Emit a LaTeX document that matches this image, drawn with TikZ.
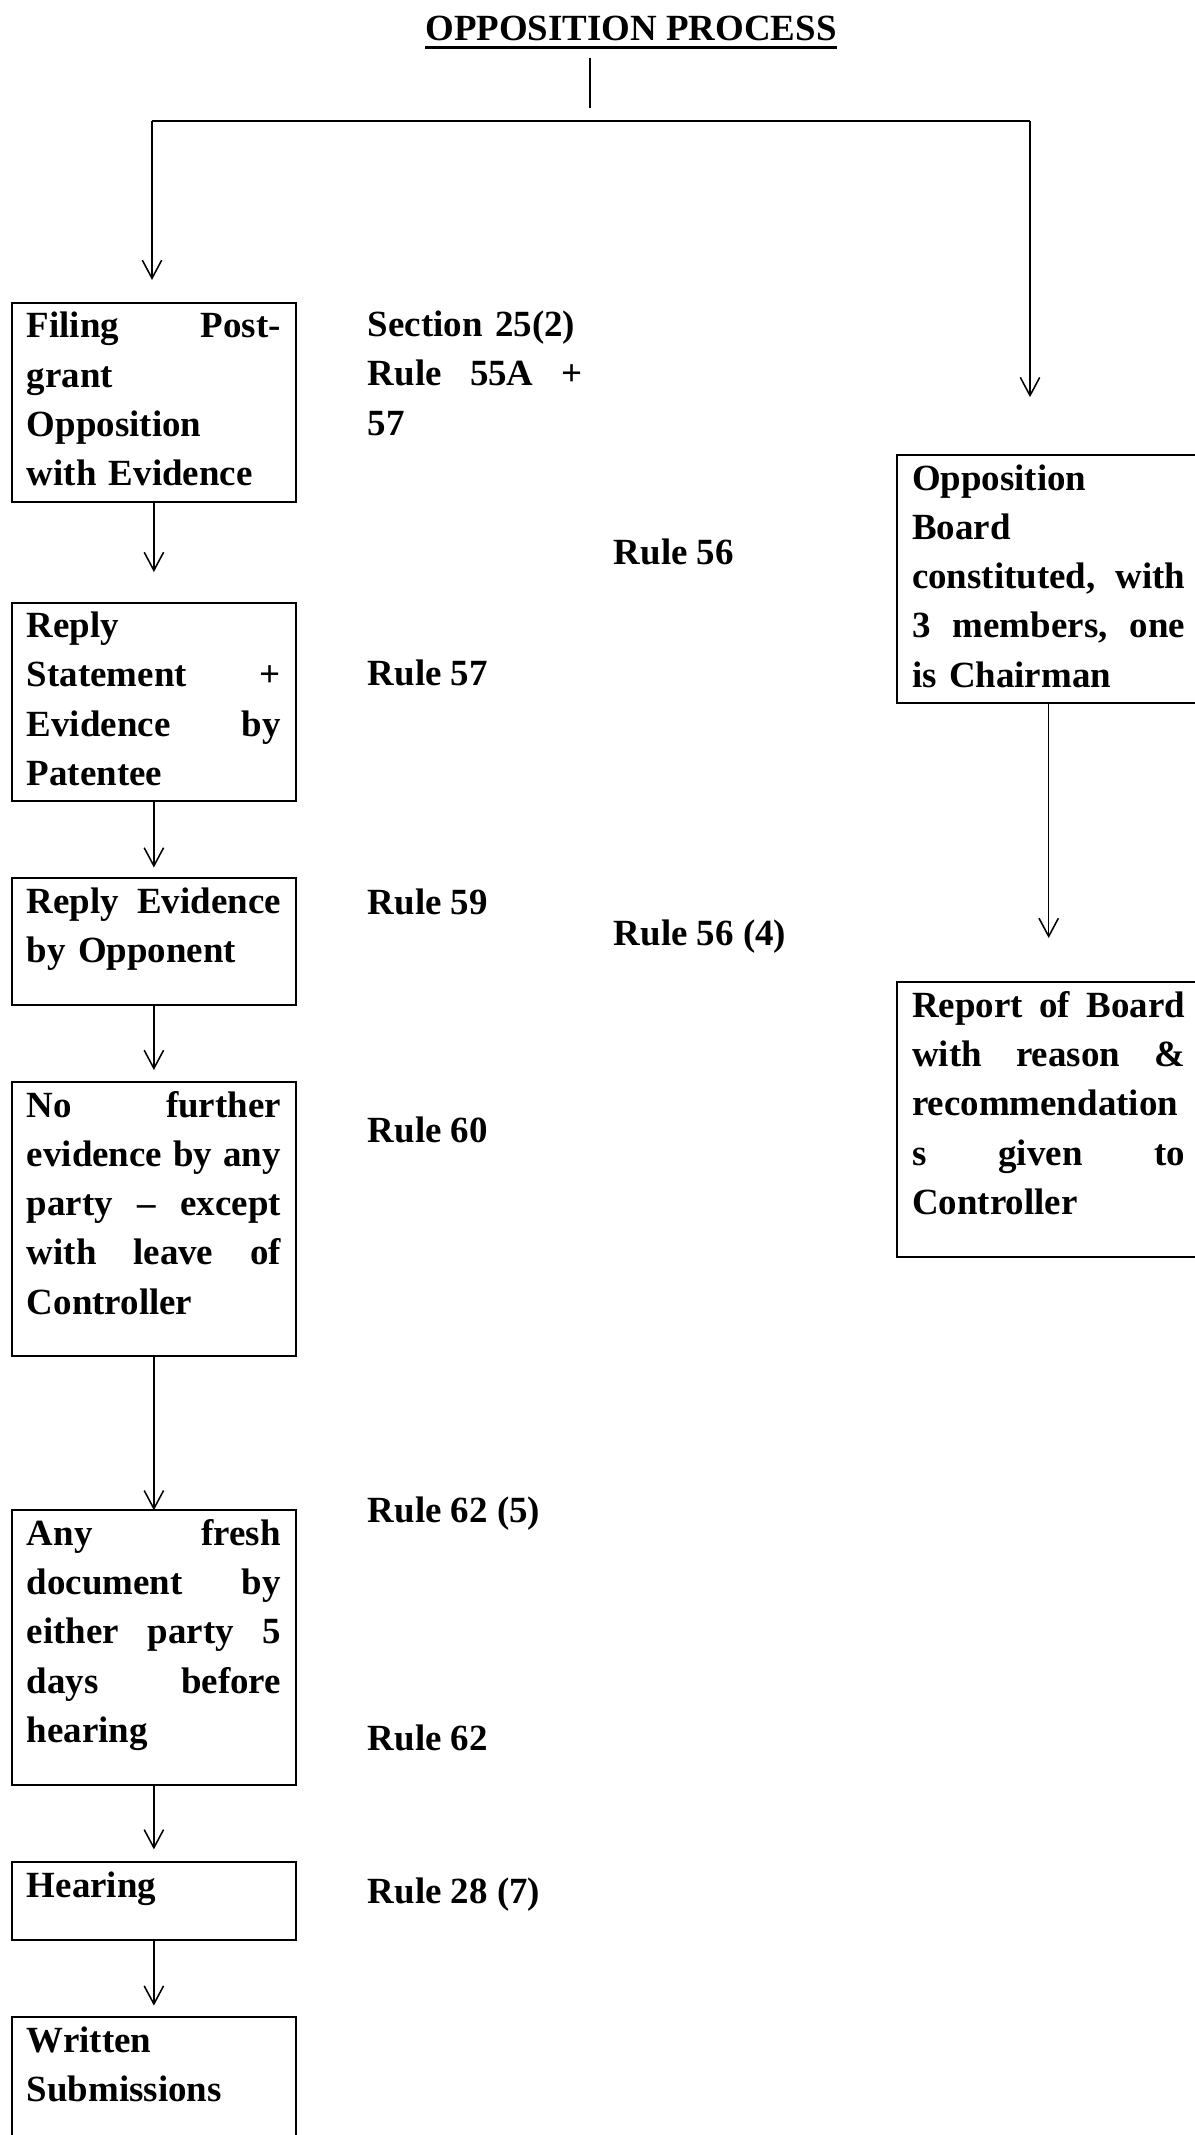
\documentclass[tikz,border=0pt]{standalone}
\usepackage{fontspec}
\setmainfont{Liberation Serif}
\usetikzlibrary{arrows.meta}
\newsavebox{\titlebox}
\newcommand{\thickul}[1]{\sbox{\titlebox}{#1}\rlap{\rule[-2.7pt]{\wd\titlebox}{0.85pt}}\usebox{\titlebox}}

\begin{document}
\begin{tikzpicture}[
  x=0.325pt,y=-0.325pt,
  stage/.style={draw,line width=0.65pt,anchor=north west,inner xsep=5pt,inner ysep=0pt,outer sep=0pt,text width=82.55pt,align=left,text height=11.4pt,font=\fontsize{12pt}{16pt}\selectfont\bfseries},
  widestage/.style={stage,text width=88.8pt},
  rulelbl/.style={anchor=base west,inner sep=0pt,font=\fontsize{12pt}{16pt}\selectfont\bfseries},
  link/.style={line width=0.5pt},
  arr/.style={-{Straight Barb[length=5.9pt,width=6.3pt]},line width=0.5pt}
]
  \useasboundingbox (0,0) rectangle (1194,2135);
  \node[anchor=base,inner xsep=0pt,inner ysep=5.4pt,text depth=0pt,font=\fontsize{12pt}{16pt}\selectfont\bfseries] (title) at (631,40.5) {\thickul{OPPOSITION PROCESS}};

  \node[stage,text depth=53.3pt] (filing) at (11.5,302.7) {Filing\hfill Post-\\grant\\Opposition\\with Evidence};
  \node[stage,text depth=53pt] (reply) at (11.5,602.5) {Reply\\Statement\hfill +\\Evidence\hfill by\\Patentee};
  \node[stage,text depth=29.9pt] (oppev) at (11.5,878) {Reply\hfill Evidence\\by Opponent};
  \node[stage,text depth=77.8pt] (nofurther) at (11.5,1082) {No\hfill further\\evidence\hfill by\hfill any\\party\hfill –\hfill except\\with\hfill leave\hfill of\\Controller};
  \node[stage,text depth=77.8pt] (fresh) at (11.5,1510.3) {Any\hfill fresh\\document\hfill by\\either\hfill party\hfill 5\\days\hfill before\\hearing};
  \node[stage,text depth=13.7pt] (hearing) at (11.5,1862.3) {Hearing};
  \node[stage,text depth=31pt] (written) at (11.5,2017.3) {Written\\Submissions};

  \node[widestage,text depth=69.2pt] (board) at (896.7,455) {Opposition\\Board\\constituted,\hfill with\\3\hfill members,\hfill one\\is Chairman};
  \node[widestage,text depth=77.8pt] (report) at (896.7,982.3) {Report\hfill of\hfill Board\\with\hfill reason\hfill \&\\recommendation\\s\hfill given\hfill to\\Controller};

  \node[rulelbl,text width=69.9pt,align=left] (sec) at (367.3,336.7) {Section 25(2)\\Rule\hfill 55A\hfill +\\57};
  \node[rulelbl] (r56) at (613.3,564) {Rule 56};
  \node[rulelbl] (r57) at (367.3,685.7) {Rule 57};
  \node[rulelbl] (r59) at (367.3,914.3) {Rule 59};
  \node[rulelbl] (r56four) at (613.3,945) {Rule 56 (4)};
  \node[rulelbl] (r60) at (367.3,1142.7) {Rule 60};
  \node[rulelbl] (r62five) at (367.3,1522.7) {Rule 62 (5)};
  \node[rulelbl] (r62) at (367.3,1750) {Rule 62};
  \node[rulelbl] (r28) at (367.3,1903.3) {Rule 28 (7)};

  \coordinate (stem) at (590,108);
  \coordinate (lturn) at (152,121);
  \coordinate (rturn) at (1030,121);
  \draw[link] (stem |- title.south) -- (stem);
  \draw[link,line width=0.6pt] (lturn) -- (rturn);
  \draw[arr,shorten >=7.4pt] (lturn) -- (lturn |- filing.north);
  \draw[arr,shorten >=18.8pt] (rturn) -- (rturn |- board.north);
  \draw[arr,shorten >=9.9pt] (filing) -- (reply);
  \draw[arr,shorten >=3.4pt] (reply) -- (oppev);
  \draw[arr,shorten >=3.9pt] (oppev) -- (nofurther);
  \draw[arr] (nofurther) -- (fresh);
  \draw[arr,shorten >=4.2pt] (fresh) -- (hearing);
  \draw[arr,shorten >=3.8pt] (hearing) -- (written);
  \draw[arr,shorten >=14.4pt] (board) -- (report);
\end{tikzpicture}
\end{document}
